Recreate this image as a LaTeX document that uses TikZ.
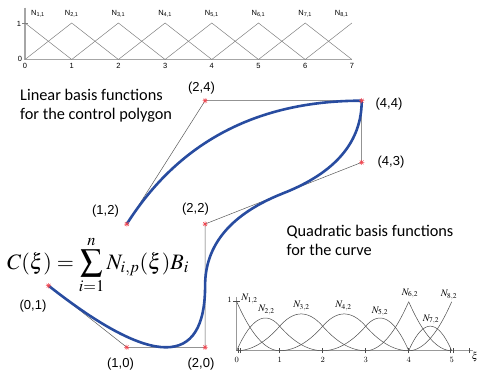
\documentclass[tikz,border=0pt]{standalone}
\usepackage{mathptmx}
\usepackage{fontspec}
\newfontfamily\arial{Liberation Sans}
\newfontfamily\calib{Carlito}
\usetikzlibrary{calc}
\definecolor{curveblue}{RGB}{40,76,160}
\definecolor{mkred}{RGB}{240,70,80}
\tikzset{
  ast/.pic={\draw[mkred, line width=0.5pt] (-2.6pt,0)--(2.6pt,0) (0,-2.6pt)--(0,2.6pt) (-1.9pt,-1.9pt)--(1.9pt,1.9pt) (-1.9pt,1.9pt)--(1.9pt,-1.9pt);},
  ctrl/.style={draw=black!65, line width=0.5pt},
  bspl/.style={draw=curveblue, line width=2.6pt, line join=round},
  ptlab/.style={font=\arial\fontsize{13}{15}\selectfont, inner sep=0pt},
  captext/.style={font=\calib\fontsize{16.3}{19.2}\selectfont, align=left, anchor=base west, inner sep=0pt},
  hat/.style={draw=black!50, line width=0.5pt},
  axg/.style={draw=black!35, line width=1.2pt},
  toplab/.style={font=\arial\fontsize{7.5}{8}\selectfont, inner sep=0pt},
  fn/.style={draw=black!70, line width=0.5pt},
  axb/.style={draw=black!40, line width=1.1pt},
  botlab/.style={font=\fontsize{8}{9}\selectfont, inner sep=0pt},
  nlab/.style={font=\fontsize{10}{11}\selectfont, inner sep=0pt},
}
\begin{document}
\begin{tikzpicture}[x=1pt,y=-1pt]
\useasboundingbox (0,0) rectangle (479,372);

% ---------- top plot: linear basis functions ----------
\begin{scope}[shift={(25,59.5)}, x=46.7pt, y=36.5pt]
  \draw[axg] (0,1.42) -- (0,0) -- (7,0);
  \draw[hat] (0,1) -- (1,0);
  \foreach \i in {2,...,7}{
    \draw[hat] (\i-2,0) -- (\i-1,1) -- (\i,0);
  }
  \draw[hat] (6,0) -- (7,1);
  \draw[hat] (-0.06,1) -- (0.06,1);
\end{scope}
\node[toplab] (tn1) at (38,13.5) {N\textsubscript{1,1}};
\foreach \i in {2,...,7}{
  \node[toplab] (tn\i) at ({25+46.7*(\i-1)},13.5) {N\textsubscript{\i,1}};
}
\node[toplab] (tn8) at (341.7,13.5) {N\textsubscript{8,1}};
\foreach \k in {0,...,7}{
  \node[toplab] (tx\k) at ({25+46.7*\k},66) {\k};
}
\node[toplab] (ty1) at (19,23.5) {1};
\node[toplab] (ty0) at (20,58.5) {0};

% ---------- captions (base = last line) ----------
\node[captext] (cap1) at (20,119.5) {Linear basis functions\\for the control polygon};
\node[captext] (cap2) at (286.5,255.8) {Quadratic basis functions\\for the curve};

% ---------- control polygon and curve ----------
\begin{scope}[shift={(48.5,347.3)}, x=78.3pt, y=61.65pt]
  \coordinate (P1) at (0,1);
  \coordinate (P2) at (1,0);
  \coordinate (P3) at (2,0);
  \coordinate (P4) at (2,2);
  \coordinate (P5) at (4,3);
  \coordinate (P6) at (4,4);
  \coordinate (P7) at (2,4);
  \coordinate (P8) at (1,2);
  \draw[ctrl] (P1) -- (P2) -- (P3) -- (P4) -- (P5) -- (P6) -- (P7) -- (P8);
  \draw[bspl] (P1)
    .. controls (0.66667,0.33333) and (1.16667,0) .. (1.5,0)
    .. controls (1.83333,0) and (2,0.33333) .. (2,1)
    .. controls (2,1.66667) and (2.33333,2.16667) .. (3,2.5)
    .. controls (3.66667,2.83333) and (4,3.33333) .. (P6)
    .. controls (2.66667,4) and (1.66667,3.33333) .. (P8);
  \foreach \p in {P1,P2,P3,P4,P5,P6,P7,P8}{
    \pic at (\p) {ast};
  }
\end{scope}

\node[ptlab] (l24) at (201.5,88) {(2,4)};
\node[ptlab] (l12) at (105.5,211) {(1,2)};
\node[ptlab] (l22) at (195.5,209) {(2,2)};
\node[ptlab] (l44) at (389,104) {(4,4)};
\node[ptlab] (l43) at (391,162) {(4,3)};
\node[ptlab] (l01) at (33,306.5) {(0,1)};
\node[ptlab] (l10) at (120.5,364) {(1,0)};
\node[ptlab] (l20) at (201,364) {(2,0)};

% ---------- formula ----------
\node[anchor=base west, inner sep=0pt] (formula) at (7,269)
  {\fontsize{22}{26}\selectfont$\displaystyle C(\xi)=\sum_{i=1}^{n}N_{i,p}(\xi)B_i$};

% ---------- bottom plot: quadratic basis functions ----------
\begin{scope}[shift={(236.7,350.7)}, x=43pt, y=49pt]
  \draw[axb] (0,1.1) -- (0,0) -- (5.5,0);
  \draw[fn] (-0.08,1) -- (0.08,1);
  \foreach \k in {1,2,3,4}{ \draw[fn] (\k,-0.05) -- (\k,0.05); }
  \draw[fn] (0.03,-0.05) -- (0.03,0.06) (0.08,-0.05) -- (0.08,0.06);
  \draw[fn] (4.97,-0.05) -- (4.97,0.06) (5.03,-0.05) -- (5.03,0.06);
  \draw[fn] (5.4,-0.05) -- (5.4,0.05);
  % N1
  \draw[fn] plot[domain=0:1,samples=30] (\x,{(1-\x)*(1-\x)});
  % N2
  \draw[fn] plot[domain=0:1,samples=30] (\x,{2*\x-1.5*\x*\x});
  \draw[fn] plot[domain=1:2,samples=30] (\x,{(2-\x)*(2-\x)/2});
  % N3
  \draw[fn] plot[domain=0:1,samples=30] (\x,{\x*\x/2});
  \draw[fn] plot[domain=1:2,samples=30] (\x,{(-2*\x*\x+6*\x-3)/2});
  \draw[fn] plot[domain=2:3,samples=30] (\x,{(3-\x)*(3-\x)/2});
  % N4
  \draw[fn] plot[domain=1:2,samples=30] (\x,{(\x-1)*(\x-1)/2});
  \draw[fn] plot[domain=2:3,samples=30] (\x,{(-2*(\x-1)*(\x-1)+6*(\x-1)-3)/2});
  \draw[fn] plot[domain=3:4,samples=30] (\x,{(4-\x)*(4-\x)/2});
  % N5
  \draw[fn] plot[domain=2:3,samples=30] (\x,{(\x-2)*(\x-2)/2});
  \draw[fn] plot[domain=3:4,samples=30] (\x,{(4-\x)*(3*\x-8)/2});
  % N6
  \draw[fn] plot[domain=3:4,samples=30] (\x,{(\x-3)*(\x-3)});
  \draw[fn] plot[domain=4:5,samples=30] (\x,{(5-\x)*(5-\x)});
  % N7
  \draw[fn] plot[domain=4:5,samples=30] (\x,{2*(\x-4)*(5-\x)});
  % N8
  \draw[fn] plot[domain=4:5,samples=30] (\x,{(\x-4)*(\x-4)});
\end{scope}
\foreach \k in {0,...,5}{
  \node[botlab] (bx\k) at ({236.7+43*\k},360) {\k};
}
\node[botlab] (by1) at (229.5,299.5) {1};
\node[nlab] (bxi) at (475,357) {$\xi$};
\node[nlab] (bn1) at (249.5,299) {$N_{1,2}$};
\node[nlab] (bn2) at (266.5,310) {$N_{2,2}$};
\node[nlab] (bn3) at (301.5,306) {$N_{3,2}$};
\node[nlab] (bn4) at (343.5,306) {$N_{4,2}$};
\node[nlab] (bn5) at (380,311.5) {$N_{5,2}$};
\node[nlab] (bn6) at (410,293.5) {$N_{6,2}$};
\node[nlab] (bn7) at (431,319.5) {$N_{7,2}$};
\node[nlab] (bn8) at (449,295) {$N_{8,2}$};
\end{tikzpicture}
\end{document}
